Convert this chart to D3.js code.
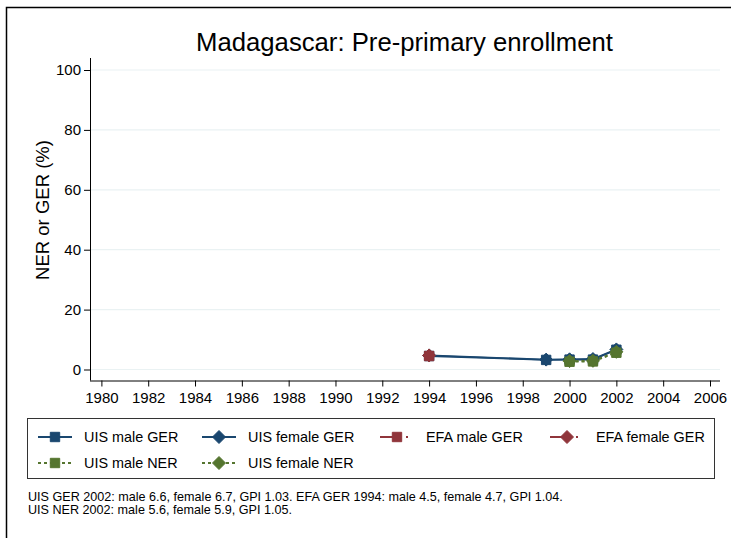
<!DOCTYPE html>
<html lang="en">
<head>
    <meta charset="UTF-8">
    <title>Madagascar: Pre-primary enrollment</title>
    <script src="https://d3js.org/d3.v7.min.js"></script>
    <style>
        body { margin: 0; background: #fff; }
        text { font-family: "Liberation Sans", Arial, sans-serif; fill: #000; }
    </style>
</head>
<body>
    <div id="chart"></div>
    <script>
        const years = [1980, 1982, 1984, 1986, 1988, 1990, 1992, 1994, 1996, 1998, 2000, 2002, 2004, 2006];
        const yTicks = [0, 20, 40, 60, 80, 100];

        const uisMaleGER = [[1994, 4.5], [1999, 3.2], [2000, 3.3], [2001, 3.3], [2002, 6.6]];
        const uisFemaleGER = [[1994, 4.7], [1999, 3.3], [2000, 3.4], [2001, 3.5], [2002, 6.7]];
        const efaMaleGER = [[1994, 4.5]];
        const efaFemaleGER = [[1994, 4.7]];
        const uisMaleNER = [[2000, 2.6], [2001, 2.7], [2002, 5.6]];
        const uisFemaleNER = [[2000, 2.8], [2001, 2.9], [2002, 5.9]];

        const notes = [
            "UIS GER 2002: male 6.6, female 6.7, GPI 1.03. EFA GER 1994: male 4.5, female 4.7, GPI 1.04.",
            "UIS NER 2002: male 5.6, female 5.9, GPI 1.05."
        ];

        const navy = "#1a476f", red = "#90353b", green = "#55752f";
        const efaDash = "20,6,2,6", nerDash = "3,3";

        const series = [
            { name: "UIS male GER", data: uisMaleGER, color: navy, dash: null, shape: "square" },
            { name: "UIS female GER", data: uisFemaleGER, color: navy, dash: null, shape: "diamond" },
            { name: "EFA male GER", data: efaMaleGER, color: red, dash: efaDash, shape: "square" },
            { name: "EFA female GER", data: efaFemaleGER, color: red, dash: efaDash, shape: "diamond" },
            { name: "UIS male NER", data: uisMaleNER, color: green, dash: nerDash, shape: "square" },
            { name: "UIS female NER", data: uisFemaleNER, color: green, dash: nerDash, shape: "diamond" }
        ];

        const W = 731, H = 538;
        const svg = d3.select("#chart").append("svg")
            .attr("width", W).attr("height", H);

        // outer frame (only top and left edges are visible)
        svg.append("path")
            .attr("d", `M6.5,${H} V7.5 H${W}`)
            .attr("fill", "none").attr("stroke", "#000").attr("stroke-width", 1.5);

        const x = d3.scaleLinear().domain([1980, 2006]).range([101.4, 710]);
        const y = d3.scaleLinear().domain([0, 100]).range([369.5, 70]);
        const plotLeft = 90, plotRight = 720, axisY = 380.5;

        // gridlines
        svg.append("g").selectAll("line").data(yTicks).join("line")
            .attr("x1", plotLeft + 1).attr("x2", plotRight)
            .attr("y1", d => y(d)).attr("y2", d => y(d))
            .attr("stroke", "#eaf2f3").attr("stroke-width", 1.2);

        // y axis
        const yAxis = svg.append("g")
            .attr("transform", `translate(${plotLeft},0)`)
            .call(d3.axisLeft(y).tickValues(yTicks).tickSize(6).tickPadding(3));
        yAxis.select(".domain").attr("d", `M0.5,58V${axisY}`);
        yAxis.selectAll("text").style("font-size", "15px");

        // x axis
        const xAxis = svg.append("g")
            .attr("transform", `translate(0,${axisY})`)
            .call(d3.axisBottom(x).tickValues(years).tickFormat(d3.format("d")).tickSize(6).tickPadding(6));
        xAxis.select(".domain").attr("d", `M${plotLeft},0.5H${plotRight}`);
        xAxis.selectAll("text").style("font-size", "15px");

        // axis title
        svg.append("text")
            .attr("transform", `translate(49,210) rotate(-90)`)
            .attr("text-anchor", "middle")
            .style("font-size", "18.5px")
            .text("NER or GER (%)");

        // title
        svg.append("text")
            .attr("x", 404.5).attr("y", 51)
            .attr("text-anchor", "middle")
            .style("font-size", "25.7px")
            .text("Madagascar: Pre-primary enrollment");

        const square = "M-4.7,-4.7H4.7V4.7H-4.7Z";
        const diamond = "M0,-6.5L6.5,0L0,6.5L-6.5,0Z";
        const shapePath = s => s === "square" ? square : diamond;

        const line = d3.line().x(d => x(d[0])).y(d => y(d[1]));

        series.forEach(s => {
            if (s.data.length > 1) {
                svg.append("path")
                    .attr("d", line(s.data))
                    .attr("fill", "none")
                    .attr("stroke", s.color)
                    .attr("stroke-width", 1.8)
                    .attr("stroke-dasharray", s.dash);
            }
            svg.append("g").selectAll("path").data(s.data).join("path")
                .attr("transform", d => `translate(${x(d[0])},${y(d[1])})`)
                .attr("d", shapePath(s.shape))
                .attr("fill", s.color)
                .attr("stroke", s.color).attr("stroke-width", 1);
        });

        // legend
        const lg = svg.append("g");
        lg.append("rect")
            .attr("x", 27.5).attr("y", 418.5).attr("width", 687).attr("height", 60)
            .attr("fill", "#fff").attr("stroke", "#333").attr("stroke-width", 1);
        const colX = [38, 202, 380, 550];
        const rowY = [437, 463];
        series.forEach((s, i) => {
            const cx = colX[i % 4], cy = rowY[Math.floor(i / 4)];
            lg.append("line")
                .attr("x1", cx).attr("x2", cx + 34).attr("y1", cy).attr("y2", cy)
                .attr("stroke", s.color).attr("stroke-width", 1.8)
                .attr("stroke-dasharray", s.dash);
            lg.append("path")
                .attr("transform", `translate(${cx + 17},${cy})`)
                .attr("d", shapePath(s.shape))
                .attr("fill", s.color).attr("stroke", s.color);
            lg.append("text")
                .attr("x", cx + 46).attr("y", cy + 5.2)
                .style("font-size", "14.4px")
                .text(s.name);
        });

        // notes
        svg.append("g").selectAll("text").data(notes).join("text")
            .attr("x", 28).attr("y", (d, i) => 500.5 + i * 13.5)
            .style("font-size", "12.6px")
            .text(d => d);
    </script>
</body>
</html>
